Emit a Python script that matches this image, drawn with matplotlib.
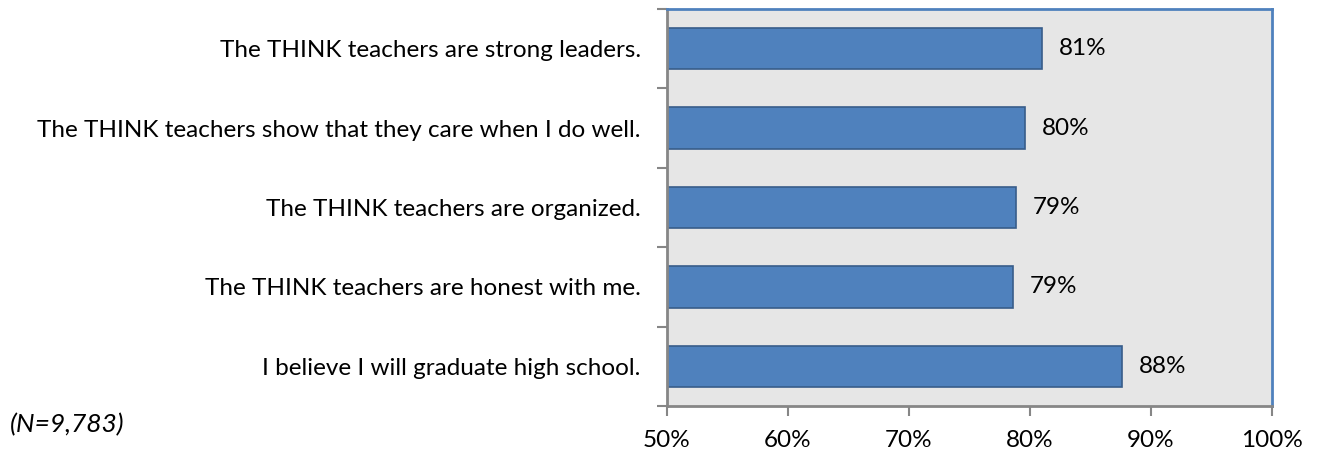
import matplotlib
matplotlib.use("Agg")
import matplotlib.pyplot as plt
from matplotlib.ticker import FixedLocator, PercentFormatter

statements = [
    "The THINK teachers are strong leaders.",
    "The THINK teachers show that they care when I do well.",
    "The THINK teachers are organized.",
    "The THINK teachers are honest with me.",
    "I believe I will graduate high school.",
]
values = [81.0, 79.6, 78.8, 78.6, 87.6]
value_labels = ["81%", "80%", "79%", "79%", "88%"]
x_ticks = [50, 60, 70, 80, 90, 100]

plt.rcParams['font.family'] = ['Lato', 'DejaVu Sans']
fs = 17.5

fig = plt.figure(figsize=(13.19, 4.53), dpi=100)
ax = fig.add_axes([0.5057, 0.1038, 0.4587, 0.8764])
ax.set_facecolor('#e6e6e6')

ypos = list(range(len(statements)))[::-1]
ax.barh(ypos, values, height=0.52, left=0, color='#4f81bd',
        edgecolor='#385d8a', linewidth=1.2)

for y, v, lab in zip(ypos, values, value_labels):
    ax.text(v + 1.4, y, lab, va='center', ha='left', fontsize=fs, color='black')

ax.set_xlim(50, 100)
ax.set_ylim(-0.5, len(statements) - 0.5)
ax.set_xticks(x_ticks)
ax.xaxis.set_major_formatter(PercentFormatter(decimals=0))
ax.set_yticks(ypos)
ax.set_yticklabels(statements)
ax.yaxis.set_minor_locator(FixedLocator([i - 0.5 for i in range(len(statements) + 1)]))

ax.tick_params(axis='y', which='major', length=0, pad=19, labelsize=fs)
ax.tick_params(axis='y', which='minor', length=7, width=1.5, color='#868686', direction='out')
ax.tick_params(axis='x', which='major', length=7, width=1.5, color='#868686', direction='out',
               pad=10, labelsize=fs)

for side in ['left', 'bottom']:
    ax.spines[side].set_color('#868686')
    ax.spines[side].set_linewidth(2)
for side in ['top', 'right']:
    ax.spines[side].set_color('#4f81bd')
    ax.spines[side].set_linewidth(2)

fig.text(10 / 1319, 1 - 425 / 453, "(N=9,783)", fontsize=19, style='italic',
         va='center', ha='left')

fig.savefig("out.png", dpi=100)
